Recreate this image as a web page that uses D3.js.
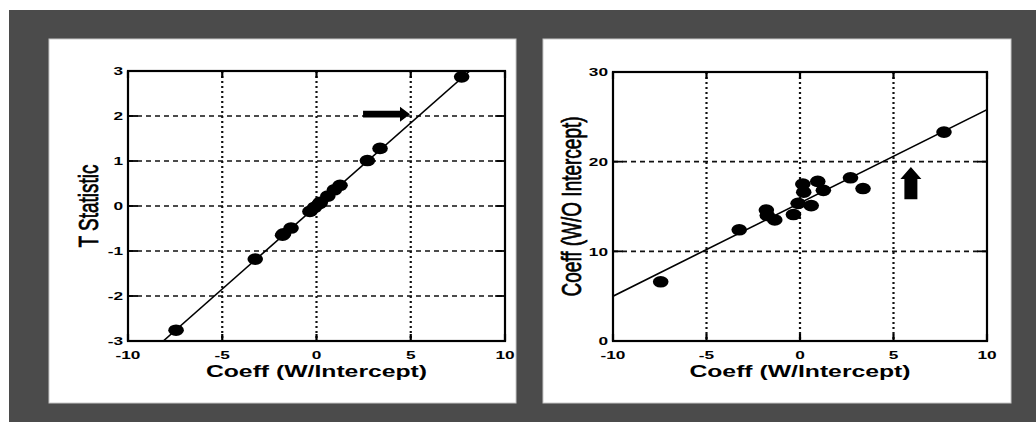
<!DOCTYPE html>
<html>
<head>
<meta charset="utf-8">
<script src="https://cdn.jsdelivr.net/npm/d3@7"></script>
<style>
  html, body { margin: 0; padding: 0; background: #ffffff; }
  svg { display: block; }
  text { font-family: "Liberation Sans", Arial, sans-serif; fill: #000; }
</style>
</head>
<body>
<svg id="chart" width="1036" height="422"></svg>
<script>
// ---- data ----
const coeffW      = [-7.45, -3.25, -1.80, -1.75, -1.35, -0.35, -0.10, 0.15, 0.20, 0.60, 0.95, 1.25, 2.70, 3.37, 7.70];
const tStatistic  = [-2.76, -1.18, -0.65, -0.62, -0.49, -0.12, -0.03, 0.05, 0.08, 0.22, 0.36, 0.46, 1.01, 1.28, 2.87];
const coeffWO     = [6.6, 12.4, 14.6, 14.0, 13.5, 14.1, 15.35, 17.5, 16.6, 15.1, 17.8, 16.8, 18.2, 17.0, 23.3];

const fitLeftX  = [-8.13, 8.13];
const fitLeftY  = [-3, 3];
const fitRightX = [-10, 10];
const fitRightY = [5.0, 25.8];

const xTicks      = [-10, -5, 0, 5, 10];
const yTicksLeft  = [-3, -2, -1, 0, 1, 2, 3];
const yTicksRight = [0, 10, 20, 30];

const xLabel       = "Coeff (W/Intercept)";
const yLabelLeft   = "T Statistic";
const yLabelRight  = "Coeff (W/O Intercept)";

// arrow annotations: [tailX, tailY, tipX, tipY] in data units
const arrowLeft  = [2.47, 2.04, 4.96, 2.04];
const arrowRight = [5.93, 15.8, 5.93, 19.4];

// ---- drawing ----
const svg = d3.select("#chart");
const SX = 1.5; // horizontal stretch of the original picture

svg.append("rect").attr("x", 0).attr("y", 0).attr("width", 1036).attr("height", 422).attr("fill", "#ffffff");
svg.append("rect").attr("x", 9).attr("y", 10).attr("width", 1027).attr("height", 412).attr("fill", "#4b4b4b");

function panel(opts) {
  const { px, py, pw, ph, box, xDomain, yDomain, yTicks, xs, ys, fx, fy, yLabel, yLabelX, arrow, arrowDir, id } = opts;
  svg.append("rect").attr("x", px).attr("y", py).attr("width", pw).attr("height", ph)
    .attr("fill", "#ffffff").attr("stroke", "#c8c8c8").attr("stroke-width", 1);

  const x = d3.scaleLinear().domain(xDomain).range([box.x0, box.x1]);
  const y = d3.scaleLinear().domain(yDomain).range([box.y1, box.y0]);
  const g = svg.append("g");

  // grid lines
  g.selectAll(".vg").data(xTicks.slice(1, -1)).join("line")
    .attr("x1", d => x(d)).attr("x2", d => x(d)).attr("y1", box.y0).attr("y2", box.y1)
    .attr("stroke", "#111").attr("stroke-width", 2.2).attr("stroke-dasharray", "2,3");
  g.selectAll(".hg").data(yTicks.slice(1, -1)).join("line")
    .attr("x1", box.x0).attr("x2", box.x1).attr("y1", d => y(d)).attr("y2", d => y(d))
    .attr("stroke", "#111").attr("stroke-width", 1.6).attr("stroke-dasharray", "5,4");

  // inward ticks on all four sides
  const tl = 7;
  g.selectAll(".tb").data(xTicks).join("line")
    .attr("x1", d => x(d)).attr("x2", d => x(d)).attr("y1", box.y1).attr("y2", box.y1 - tl)
    .attr("stroke", "#000").attr("stroke-width", 2.2);
  g.selectAll(".tt").data(xTicks).join("line")
    .attr("x1", d => x(d)).attr("x2", d => x(d)).attr("y1", box.y0).attr("y2", box.y0 + tl)
    .attr("stroke", "#000").attr("stroke-width", 2.2);
  g.selectAll(".tlft").data(yTicks).join("line")
    .attr("x1", box.x0).attr("x2", box.x0 + tl * 1.4).attr("y1", d => y(d)).attr("y2", d => y(d))
    .attr("stroke", "#000").attr("stroke-width", 1.8);
  g.selectAll(".trgt").data(yTicks).join("line")
    .attr("x1", box.x1).attr("x2", box.x1 - tl * 1.4).attr("y1", d => y(d)).attr("y2", d => y(d))
    .attr("stroke", "#000").attr("stroke-width", 1.8);

  // fit line, clipped
  svg.append("clipPath").attr("id", id).append("rect")
    .attr("x", box.x0).attr("y", box.y0).attr("width", box.x1 - box.x0).attr("height", box.y1 - box.y0);
  const lineData = fx.map((v, i) => [v, fy[i]]);
  g.append("path").datum(lineData)
    .attr("clip-path", `url(#${id})`)
    .attr("d", d3.line().x(d => x(d[0])).y(d => y(d[1])))
    .attr("fill", "none").attr("stroke", "#000").attr("stroke-width", 1.6);

  // points
  g.selectAll(".pt").data(xs.map((v, i) => [v, ys[i]])).join("ellipse")
    .attr("cx", d => x(d[0])).attr("cy", d => y(d[1]))
    .attr("rx", 7.8).attr("ry", 5.8).attr("fill", "#000");

  // box
  g.append("rect").attr("x", box.x0).attr("y", box.y0)
    .attr("width", box.x1 - box.x0).attr("height", box.y1 - box.y0)
    .attr("fill", "none").attr("stroke", "#000").attr("stroke-width", 2.2);

  // tick labels
  g.selectAll(".xl").data(xTicks).join("text")
    .attr("transform", d => `translate(${x(d)},${box.y1 + 17.5}) scale(${SX},1)`)
    .attr("text-anchor", "middle").attr("font-size", 11.5).attr("font-weight", "bold")
    .text(d => d);
  g.selectAll(".yl").data(yTicks).join("text")
    .attr("transform", d => `translate(${box.x0 - 5},${y(d) + 4.2}) scale(${SX},1)`)
    .attr("text-anchor", "end").attr("font-size", 11.5).attr("font-weight", "bold")
    .text(d => d);

  // axis titles
  g.append("text")
    .attr("transform", `translate(${(box.x0 + box.x1) / 2},${box.y1 + 36}) scale(${SX},1)`)
    .attr("text-anchor", "middle").attr("font-size", 16.5).attr("font-weight", "bold")
    .text(xLabel);
  g.append("text")
    .attr("transform", `translate(${yLabelX},${(box.y0 + box.y1) / 2}) scale(${SX},1) rotate(-90)`)
    .attr("text-anchor", "middle").attr("font-size", 19)
    .attr("stroke", "#000").attr("stroke-width", 0.5)
    .text(yLabel);

  // arrow annotation
  const [ax0, ay0, ax1, ay1] = arrow;
  const tx = x(ax1), ty = y(ay1), sx0 = x(ax0), sy0 = y(ay0);
  let pts;
  if (arrowDir === "right") {
    const hw = 7.5, sw = 3.4, hl = 10;
    pts = [[sx0, ty - sw], [tx - hl, ty - sw], [tx - hl, ty - hw], [tx, ty], [tx - hl, ty + hw], [tx - hl, ty + sw], [sx0, ty + sw]];
  } else {
    const hw = 10.5, sw = 6.5, hl = 12;
    pts = [[tx - sw, sy0], [tx - sw, ty + hl], [tx - hw, ty + hl], [tx, ty], [tx + hw, ty + hl], [tx + sw, ty + hl], [tx + sw, sy0]];
  }
  g.append("polygon").attr("points", pts.map(p => p.join(",")).join(" ")).attr("fill", "#000");
}

panel({
  id: "clipL", px: 49, py: 39, pw: 467, ph: 364,
  box: { x0: 128, x1: 505, y0: 71, y1: 341 },
  xDomain: [-10, 10], yDomain: [-3, 3], yTicks: yTicksLeft,
  xs: coeffW, ys: tStatistic, fx: fitLeftX, fy: fitLeftY,
  yLabel: yLabelLeft, yLabelX: 98, arrow: arrowLeft, arrowDir: "right"
});
panel({
  id: "clipR", px: 543, py: 39, pw: 468, ph: 364,
  box: { x0: 613, x1: 987, y0: 72, y1: 341 },
  xDomain: [-10, 10], yDomain: [0, 30], yTicks: yTicksRight,
  xs: coeffW, ys: coeffWO, fx: fitRightX, fy: fitRightY,
  yLabel: yLabelRight, yLabelX: 581, arrow: arrowRight, arrowDir: "up"
});
</script>
</body>
</html>
